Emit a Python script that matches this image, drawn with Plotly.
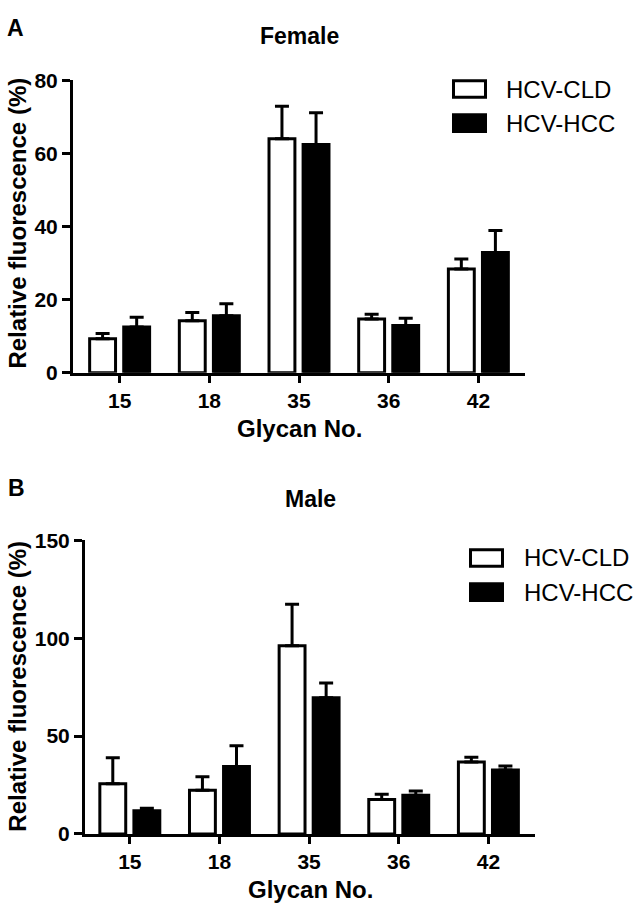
import plotly.graph_objects as go

W, H = 638, 919

glycans = ["15", "18", "35", "36", "42"]

female_cld = [9.3, 14.2, 64.0, 14.7, 28.4]
female_cld_err = [1.4, 2.3, 8.9, 1.3, 2.7]
female_hcc = [12.5, 15.6, 62.4, 12.9, 32.9]
female_hcc_err = [2.7, 3.3, 8.7, 2.0, 6.0]

male_cld = [25.6, 22.3, 96.2, 17.6, 36.7]
male_cld_err = [13.3, 6.9, 21.2, 2.7, 2.5]
male_hcc = [11.8, 34.4, 69.6, 19.8, 32.7]
male_hcc_err = [1.3, 10.6, 7.5, 2.1, 2.0]

female_yticks = [0, 20, 40, 60, 80]
male_yticks = [0, 50, 100, 150]

FONT = "Liberation Sans, Arial, sans-serif"


def px(x):
    return x / W


def py(y):
    return 1 - y / H


def bar(name, x, y, err, color, xa, ya):
    return go.Bar(
        name=name, x=x, y=y, xaxis=xa, yaxis=ya, showlegend=False,
        marker=dict(color=color, line=dict(color="black", width=3)),
        error_y=dict(type="data", array=err, arrayminus=[0] * len(err), symmetric=False,
                     color="black", thickness=3, width=7),
    )


fig = go.Figure()
fig.add_trace(bar("HCV-CLD", glycans, female_cld, female_cld_err, "white", "x", "y"))
fig.add_trace(bar("HCV-HCC", glycans, female_hcc, female_hcc_err, "black", "x", "y"))
fig.add_trace(bar("HCV-CLD", glycans, male_cld, male_cld_err, "white", "x2", "y2"))
fig.add_trace(bar("HCV-HCC", glycans, male_hcc, male_hcc_err, "black", "x2", "y2"))

tickfont = dict(family=FONT, size=21, color="black", weight="bold")
xcommon = dict(type="category", categoryorder="array", categoryarray=glycans,
               showline=True, linecolor="black", linewidth=3, ticks="outside",
               ticklen=7, tickwidth=3, tickcolor="black", showgrid=False,
               zeroline=False, tickfont=tickfont, fixedrange=True)
ycommon = dict(showline=True, linecolor="black", linewidth=3, ticks="outside",
               ticklen=8, tickwidth=3, tickcolor="black", showgrid=False,
               zeroline=False, tickfont=tickfont, fixedrange=True)

fig.update_layout(
    width=W, height=H,
    margin=dict(l=0, r=0, t=0, b=0),
    paper_bgcolor="white", plot_bgcolor="white",
    barmode="group", bargap=0.24, bargroupgap=0.24,
    showlegend=False,
    xaxis=dict(xcommon, domain=[px(73), px(525)], range=[-0.52, 4.52], anchor="y"),
    yaxis=dict(ycommon, domain=[py(370), py(70)], range=[0, 80], tickvals=female_yticks, anchor="x"),
    xaxis2=dict(xcommon, domain=[px(85), px(535)], range=[-0.5, 4.52], anchor="y2"),
    yaxis2=dict(ycommon, domain=[py(843), py(542)], range=[0, 150], tickvals=male_yticks, anchor="x2"),
)

annotations = []


def text(x, y, s, size, bold=True, angle=0, xanchor="center"):
    annotations.append(dict(
        x=px(x), y=py(y), xref="paper", yref="paper", text=s, showarrow=False,
        xanchor=xanchor, yanchor="middle", textangle=angle,
        font=dict(family=FONT, size=size, color="black", weight="bold" if bold else "normal"),
    ))


# panel letters and titles
text(15, 16, "A", 23)
text(16, 488, "B", 23)
text(299, 25, "Female", 23)
text(310, 499, "Male", 23)
# axis titles
text(18, 217, "Relative fluorescence (%)", 24, angle=-90)
text(18, 692, "Relative fluorescence (%)", 24, angle=-90)
text(299, 427, "Glycan No.", 24)
text(310, 900, "Glycan No.", 24)

# legends (drawn manually)
legend_series = ["HCV-CLD", "HCV-HCC"]
legend_fill = ["white", "black"]
shapes = []
for (lx, ly0, tx) in [(452, 69, 504), (469, 550, 522)]:
    for i, (name, fill) in enumerate(zip(legend_series, legend_fill)):
        top = ly0 + i * 35
        shapes.append(dict(type="rect", xref="paper", yref="paper",
                           x0=px(lx + 1.5), x1=px(lx + 33.5), y0=py(top + 1.5), y1=py(top + 18.5),
                           line=dict(color="black", width=3), fillcolor=fill))
        text(tx, top + 10, name, 24, bold=False, xanchor="left")

fig.update_layout(annotations=annotations, shapes=shapes)
fig.write_html(
    "out.html",
    config={"responsive": False, "displayModeBar": False},
    post_script="document.body.style.margin='0';document.body.style.overflow='hidden';",
)
